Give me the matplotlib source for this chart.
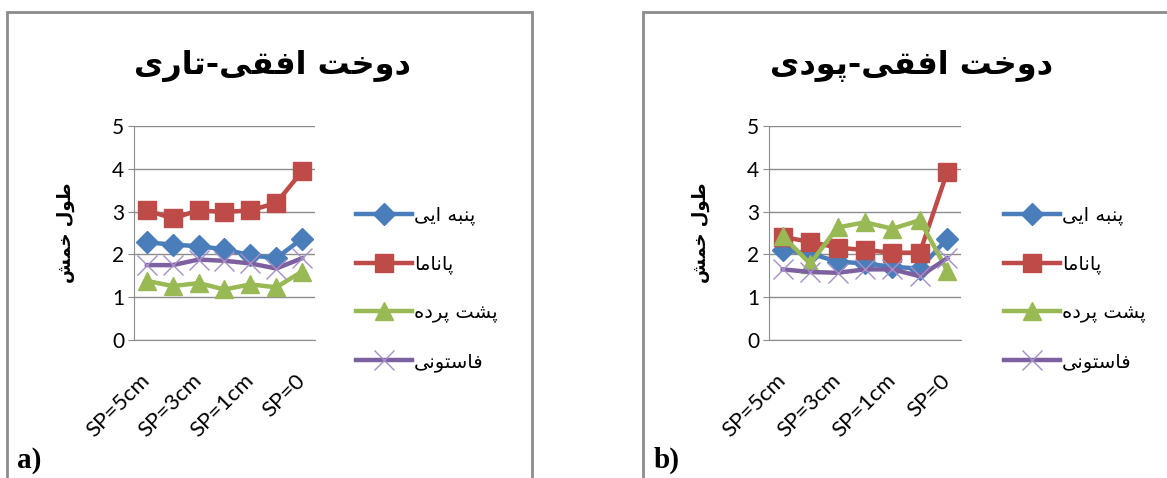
import matplotlib
matplotlib.use("Agg")
import matplotlib.pyplot as plt
from matplotlib.patches import Rectangle

# bending length for 4 fabrics at each stitch spacing
categories = ["SP=5cm", "SP=4cm", "SP=3cm", "SP=2cm", "SP=1cm", "SP=0.5cm", "SP=0"]
shown_ticks = [0, 2, 4, 6]

fabrics = ["پنبه ایی", "پاناما", "پشت پرده", "فاستونی"]

weft_panbe = [2.28, 2.23, 2.19, 2.12, 1.98, 1.91, 2.37]
weft_panama = [3.03, 2.84, 3.03, 2.99, 3.03, 3.20, 3.94]
weft_poshte = [1.38, 1.26, 1.33, 1.18, 1.30, 1.23, 1.60]
weft_fastoni = [1.75, 1.75, 1.88, 1.85, 1.79, 1.67, 1.91]

warp_panbe = [2.10, 2.02, 1.83, 1.79, 1.71, 1.67, 2.37]
warp_panama = [2.41, 2.29, 2.16, 2.10, 2.04, 2.04, 3.93]
warp_poshte = [2.43, 1.78, 2.63, 2.75, 2.60, 2.80, 1.62]
warp_fastoni = [1.65, 1.59, 1.57, 1.65, 1.65, 1.49, 1.91]

title_a = "دوخت افقی-تاری"
title_b = "دوخت افقی-پودی"
ylabel = "طول خمش"

colors = ["#4a7ebb", "#be4b48", "#98b954", "#7d60a0"]
markers = ["D", "s", "^", "x"]
msizes = [11, 13, 13, 14]

# presentation forms: isolated, final, initial, medial
FORMS = {
    "ا": ("\ufe8d", "\ufe8e", None, None),
    "ب": ("\ufe8f", "\ufe90", "\ufe91", "\ufe92"),
    "پ": ("\ufb56", "\ufb57", "\ufb58", "\ufb59"),
    "ت": ("\ufe95", "\ufe96", "\ufe97", "\ufe98"),
    "خ": ("\ufea5", "\ufea6", "\ufea7", "\ufea8"),
    "د": ("\ufea9", "\ufeaa", None, None),
    "ر": ("\ufead", "\ufeae", None, None),
    "س": ("\ufeb1", "\ufeb2", "\ufeb3", "\ufeb4"),
    "ش": ("\ufeb5", "\ufeb6", "\ufeb7", "\ufeb8"),
    "ط": ("\ufec1", "\ufec2", "\ufec3", "\ufec4"),
    "ف": ("\ufed1", "\ufed2", "\ufed3", "\ufed4"),
    "ق": ("\ufed5", "\ufed6", "\ufed7", "\ufed8"),
    "ل": ("\ufedd", "\ufede", "\ufedf", "\ufee0"),
    "م": ("\ufee1", "\ufee2", "\ufee3", "\ufee4"),
    "ن": ("\ufee5", "\ufee6", "\ufee7", "\ufee8"),
    "ه": ("\ufee9", "\ufeea", "\ufeeb", "\ufeec"),
    "و": ("\ufeed", "\ufeee", None, None),
    "ی": ("\ufeef", "\ufef0", "\ufef3", "\ufef4"),
}


def shape(s):
    out = []
    for i, ch in enumerate(s):
        f = FORMS.get(ch)
        if f is None:
            out.append(ch)
            continue
        prev = s[i - 1] if i > 0 else ""
        nxt = s[i + 1] if i + 1 < len(s) else ""
        join_prev = prev in FORMS and FORMS[prev][2] is not None
        join_next = nxt in FORMS and f[2] is not None
        if join_prev and join_next:
            out.append(f[3])
        elif join_prev:
            out.append(f[1])
        elif join_next:
            out.append(f[2])
        else:
            out.append(f[0])
    return "".join(out)[::-1]


plt.rcParams["font.family"] = ["DejaVu Sans"]

W, H = 1167, 478
fig = plt.figure(figsize=(W / 100, H / 100), dpi=100)

# outer frames of the two charts
for x0, x1 in [(7, 532), (643, 1200)]:
    fig.patches.append(Rectangle((x0 / W, -0.1), (x1 - x0) / W, 1.1 - 12 / H,
                                 transform=fig.transFigure, fill=False,
                                 edgecolor="#8c8c8c", linewidth=2))


def draw_panel(left, width, series, title, title_x, legend_x, tag, tag_x):
    ax = fig.add_axes([left / W, (H - 340) / H, width / W, 214 / H])
    for vals, c, m, ms, name in zip(series, colors, markers, msizes, fabrics):
        if m == "x":
            ax.plot(range(len(vals)), vals, color=c, lw=3.2, marker=m, ms=ms,
                    mec="#a58fc8", mew=1, label=shape(name))
        else:
            ax.plot(range(len(vals)), vals, color=c, lw=3.2, marker=m, ms=ms,
                    mec=c, label=shape(name))
    ax.set_xlim(-0.5, len(categories) - 0.5)
    ax.set_ylim(0, 5)
    ax.set_yticks(range(6))
    ax.yaxis.grid(True, color="#8c8c8c", lw=1)
    ax.set_axisbelow(True)
    ax.set_xticks(shown_ticks)
    ax.set_xticklabels([categories[i] for i in shown_ticks], rotation=45,
                       rotation_mode="anchor", ha="right", va="center",
                       fontsize=16, family="Lato")
    ax.tick_params(axis="x", length=0, pad=27)
    ax.tick_params(axis="y", length=4, color="#8c8c8c", pad=3)
    for lbl in ax.get_yticklabels():
        lbl.set_fontsize(15)
        lbl.set_family("Lato")
    for side in ["top", "right"]:
        ax.spines[side].set_visible(False)
    for side in ["left", "bottom"]:
        ax.spines[side].set_color("#8c8c8c")
    ax.set_ylabel(shape(ylabel), fontsize=13, fontweight="bold", labelpad=27)
    fig.text(title_x / W, 1 - 66 / H, shape(title), fontsize=23,
             fontweight="bold", ha="center", va="center")
    fig.text(tag_x / W, 1 - 460 / H, tag, fontsize=21, fontweight="bold",
             family="Liberation Serif", ha="left", va="center")
    ax.legend(loc="upper left", bbox_to_anchor=(legend_x / W, 1 - 190 / H),
              bbox_transform=fig.transFigure, frameon=False, fontsize=14,
              handlelength=2.9, labelspacing=1.5, handletextpad=0.1,
              borderpad=0.3)
    return ax


draw_panel(134, 181, [weft_panbe, weft_panama, weft_poshte, weft_fastoni],
           title_a, 272, 340, "a)", 17)
draw_panel(769, 192, [warp_panbe, warp_panama, warp_poshte, warp_fastoni],
           title_b, 911, 988, "b)", 654)

fig.savefig("out.png", dpi=100)
